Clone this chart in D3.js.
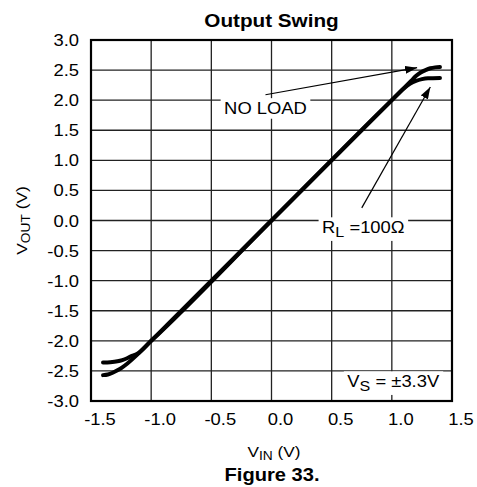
<!DOCTYPE html>
<html>
<head>
<meta charset="utf-8">
<script src="https://cdn.jsdelivr.net/npm/d3@7"></script>
<style>
  html, body { margin: 0; padding: 0; background: #fff; }
  svg { display: block; font-family: "Liberation Sans", Arial, sans-serif; }
</style>
</head>
<body>
<div id="chart"></div>
<script>
  // Output Swing — VOUT vs VIN, two load conditions

  var xTicks = [-1.5, -1.0, -0.5, 0.0, 0.5, 1.0, 1.5];
  var yTicks = [3.0, 2.5, 2.0, 1.5, 1.0, 0.5, 0.0, -0.5, -1.0, -1.5, -2.0, -2.5, -3.0];

  // [VIN, VOUT]
  var noLoad = [
    [-1.40, -2.57], [-1.36, -2.56], [-1.32, -2.53], [-1.28, -2.49], [-1.24, -2.44],
    [-1.20, -2.38], [-1.10, -2.20], [-1.00, -2.00], [0.00, 0.00], [1.00, 2.00],
    [1.10, 2.20], [1.16, 2.32], [1.20, 2.40], [1.24, 2.46], [1.28, 2.50],
    [1.32, 2.53], [1.36, 2.545], [1.40, 2.55]
  ];
  var rl100 = [
    [-1.40, -2.36], [-1.34, -2.355], [-1.28, -2.34], [-1.24, -2.32], [-1.20, -2.29],
    [-1.16, -2.25], [-1.12, -2.22], [-1.00, -2.00], [0.00, 0.00], [1.00, 2.00],
    [1.10, 2.195], [1.15, 2.27], [1.20, 2.32], [1.25, 2.35], [1.30, 2.365],
    [1.40, 2.37]
  ];

  // annotations: label anchor and arrow (from -> tip), data units
  var notes = [
    { label: 'NO LOAD', x: -0.05, y: 1.77, anchor: 'middle', from: [-0.05, 2.09], to: [1.21, 2.54] },
    { label: 'RL', x: 0.42, y: -0.21, anchor: 'start', from: [0.75, 0.21], to: [1.32, 2.22] },
    { label: 'VS', x: 0.63, y: -2.77, anchor: 'start' }
  ];

  var W = 477, H = 487;
  var SX = 1.15; // the original type is a bit wide
  var plot = { left: 91, right: 452, top: 40, bottom: 401 };

  var x = d3.scaleLinear().domain([-1.5, 1.5]).range([plot.left, plot.right]);
  var y = d3.scaleLinear().domain([-3, 3]).range([plot.bottom, plot.top]);

  var svg = d3.select('#chart').append('svg')
    .attr('width', W).attr('height', H);

  function wideText(parent, px, py, anchor, size, weight) {
    var g = parent.append('g')
      .attr('transform', 'translate(' + px + ',' + py + ') scale(' + SX + ',1)');
    var t = g.append('text')
      .attr('text-anchor', anchor)
      .attr('font-size', size)
      .attr('font-weight', weight || 'normal')
      .attr('fill', '#000');
    return { g: g, t: t };
  }

  // grid
  var grid = svg.append('g');
  grid.selectAll('line.vx').data(xTicks).enter().append('line')
    .attr('x1', function (d) { return x(d); }).attr('x2', function (d) { return x(d); })
    .attr('y1', plot.top).attr('y2', plot.bottom)
    .attr('stroke', '#222').attr('stroke-width', 1.3);
  grid.selectAll('line.hy').data(yTicks).enter().append('line')
    .attr('y1', function (d) { return y(d); }).attr('y2', function (d) { return y(d); })
    .attr('x1', plot.left).attr('x2', plot.right)
    .attr('stroke', '#222').attr('stroke-width', 1.3);

  // tick labels
  xTicks.forEach(function (d) {
    wideText(svg, x(d) + 9, 425, 'middle', 16).t.text(d.toFixed(1));
  });
  yTicks.forEach(function (d) {
    wideText(svg, plot.left - 12, y(d) + 6, 'end', 16).t.text(d.toFixed(1));
  });

  // curves
  var line = d3.line()
    .x(function (d) { return x(d[0]); })
    .y(function (d) { return y(d[1]); })
    .curve(d3.curveMonotoneX);

  [noLoad, rl100].forEach(function (s) {
    svg.append('path').datum(s)
      .attr('d', line)
      .attr('fill', 'none')
      .attr('stroke', '#000')
      .attr('stroke-width', 4)
      .attr('stroke-linecap', 'round');
  });

  // arrows
  svg.append('defs').append('marker')
    .attr('id', 'head')
    .attr('viewBox', '0 0 12 8')
    .attr('refX', 12).attr('refY', 4)
    .attr('markerWidth', 12).attr('markerHeight', 8)
    .attr('markerUnits', 'userSpaceOnUse')
    .attr('orient', 'auto')
    .append('path').attr('d', 'M0,0 L12,4 L0,8 Z').attr('fill', '#000');

  notes.forEach(function (n) {
    if (!n.from) return;
    svg.append('line')
      .attr('x1', x(n.from[0])).attr('y1', y(n.from[1]))
      .attr('x2', x(n.to[0])).attr('y2', y(n.to[1]))
      .attr('stroke', '#000').attr('stroke-width', 1.2)
      .attr('marker-end', 'url(#head)');
  });

  // annotation labels on white boxes
  notes.forEach(function (n) {
    var w = wideText(svg, x(n.x), y(n.y), n.anchor, 16);
    if (n.label === 'NO LOAD') {
      w.t.text('NO LOAD');
    } else if (n.label === 'RL') {
      w.t.append('tspan').text('R');
      w.t.append('tspan').attr('font-size', 14).attr('dy', 4).text('L');
      w.t.append('tspan').attr('dy', -4).text(' =100Ω');
    } else {
      w.t.append('tspan').text('V');
      w.t.append('tspan').attr('font-size', 14).attr('dy', 4).text('S');
      w.t.append('tspan').attr('dy', -4).text(' = ±3.3V');
    }
    var bb = w.t.node().getBBox();
    w.g.insert('rect', 'text')
      .attr('x', bb.x - 3).attr('y', bb.y - 1)
      .attr('width', bb.width + 6).attr('height', bb.height + 2)
      .attr('fill', '#fff');
  });

  // frame
  svg.append('rect')
    .attr('x', plot.left).attr('y', plot.top)
    .attr('width', plot.right - plot.left).attr('height', plot.bottom - plot.top)
    .attr('fill', 'none').attr('stroke', '#000').attr('stroke-width', 2.2);

  // titles
  wideText(svg, (plot.left + plot.right) / 2, 27, 'middle', 18, 'bold').t.text('Output Swing');

  var xl = wideText(svg, 274, 457, 'middle', 15);
  xl.t.append('tspan').text('V');
  xl.t.append('tspan').attr('font-size', 12).attr('dy', 3).text('IN');
  xl.t.append('tspan').attr('dy', -3).text(' (V)');

  var yl = svg.append('g')
    .attr('transform', 'translate(27,' + ((plot.top + plot.bottom) / 2) + ') rotate(-90) scale(' + SX + ',1)');
  var ylt = yl.append('text').attr('text-anchor', 'middle').attr('font-size', 15).attr('fill', '#000');
  ylt.append('tspan').text('V');
  ylt.append('tspan').attr('font-size', 12).attr('dy', 3).text('OUT');
  ylt.append('tspan').attr('dy', -3).text(' (V)');

  wideText(svg, 272, 481, 'middle', 17.5, 'bold').t.text('Figure 33.');
</script>
</body>
</html>
